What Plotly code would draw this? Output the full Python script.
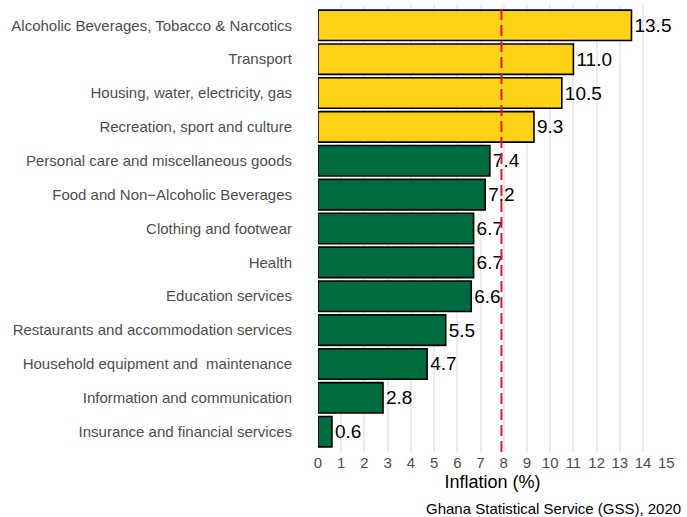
import plotly.graph_objects as go

categories = [
    "Alcoholic Beverages, Tobacco & Narcotics",
    "Transport",
    "Housing, water, electricity, gas",
    "Recreation, sport and culture",
    "Personal care and miscellaneous goods",
    "Food and Non\u2212Alcoholic Beverages",
    "Clothing and footwear",
    "Health",
    "Education services",
    "Restaurants and accommodation services",
    "Household equipment and\u00a0 maintenance",
    "Information and communication",
    "Insurance and financial services",
]
inflation = [13.5, 11.0, 10.5, 9.3, 7.4, 7.2, 6.7, 6.7, 6.6, 5.5, 4.7, 2.8, 0.6]
national_rate = 7.9
x_ticks = list(range(0, 16))

YELLOW = "#FCD116"
GREEN = "#006B3F"
RED = "#D91A35"
colors = [YELLOW if v > national_rate else GREEN for v in inflation]

fig = go.Figure()
fig.add_trace(go.Bar(
    x=inflation, y=categories, orientation="h",
    marker=dict(color=colors, line=dict(color="black", width=1.6)),
    width=0.9,
    text=inflation, texttemplate="%{x:.1f}", textposition="outside",
    textfont=dict(size=19, color="black", family="Liberation Sans, Arial"),
    cliponaxis=False, hoverinfo="x+y",
))
fig.add_shape(type="line", x0=national_rate, x1=national_rate, y0=0, y1=1,
              xref="x", yref="paper", line=dict(color=RED, width=2, dash="11px,5px"))

fig.update_layout(
    width=687, height=517,
    margin=dict(l=318, r=20, t=5, b=65),
    plot_bgcolor="white", paper_bgcolor="white",
    font=dict(family="Liberation Sans, Arial", color="#4d4d4d"),
    showlegend=False,
    xaxis=dict(range=[0, 15.03], tickvals=x_ticks, showgrid=True, gridcolor="#ebebeb",
               gridwidth=1.6, zeroline=False, showline=False, automargin=False,
               tickfont=dict(size=15, color="#4d4d4d"),
               ticks="", ticklabelstandoff=0,
               title=dict(text="Inflation (%)", font=dict(size=18, color="black"), standoff=5)),
    yaxis=dict(categoryorder="array", categoryarray=categories[::-1],
               range=[-0.6, 12.6], showgrid=False, zeroline=False, showline=False,
               automargin=False,
               tickfont=dict(size=15, color="#4d4d4d"),
               ticks="outside", ticklen=22, tickcolor="rgba(0,0,0,0)"),
    annotations=[dict(text="Ghana Statistical Service (GSS), 2020", xref="paper", yref="paper",
                      x=(683 - 318) / 349, y=-(508 - 452) / 447, xanchor="right", yanchor="middle",
                      showarrow=False, font=dict(size=15, color="black"))],
)
fig.write_html("out.html", config={"displayModeBar": False},
               post_script="document.body.style.margin='0px';")
